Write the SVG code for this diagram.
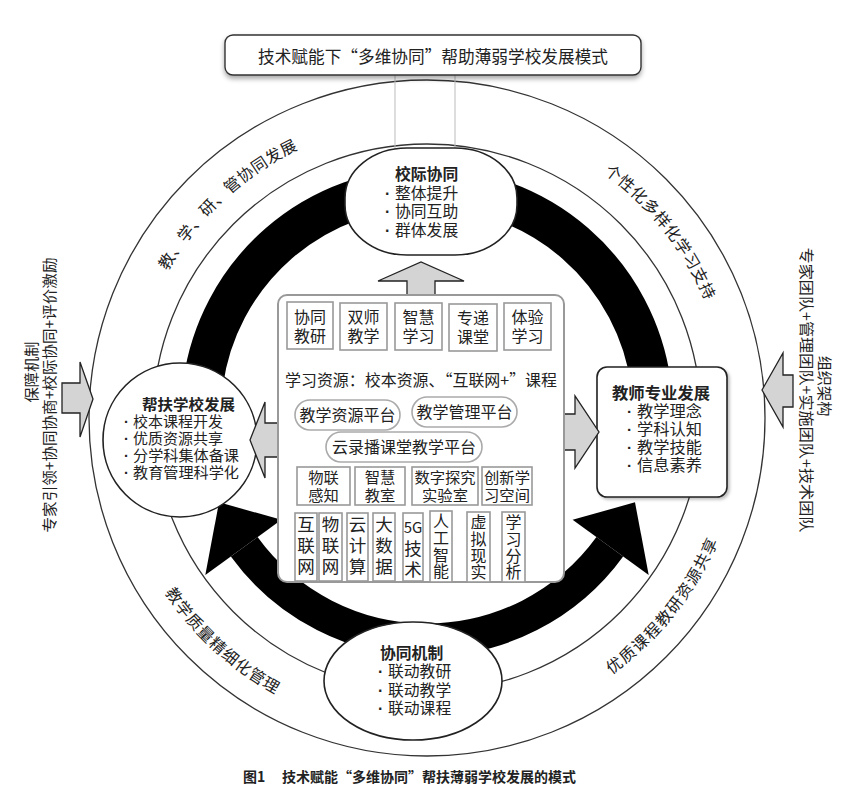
<svg xmlns="http://www.w3.org/2000/svg" width="850" height="803" viewBox="0 0 850 803">
<defs>
<style>
.t{font-family:"Noto Sans CJK SC","Noto Sans",sans-serif;fill:#222}
.h{font-weight:700}
.b{font-family:"Liberation Sans",sans-serif;font-weight:700}
.v{writing-mode:vertical-rl}
.ring{fill:none;stroke:#333;stroke-width:1.3}
.band{fill:none;stroke:#000;stroke-width:40}
.band2{fill:none;stroke:#000;stroke-width:33}
.blk{fill:#d4d4d4;stroke:#222;stroke-width:1.3;stroke-linejoin:miter}
.node{fill:#fff;stroke:#222;stroke-width:1.6}
.box{fill:#fff;stroke:#999;stroke-width:1.6}
.pill{fill:#fff;stroke:#aaa;stroke-width:1.6}
.vl{stroke:#bbb;stroke-width:1}
</style>
<filter id="sh" x="-10%" y="-20%" width="120%" height="150%"><feDropShadow dx="0" dy="3" stdDeviation="2.5" flood-color="#000" flood-opacity="0.35"/></filter>
<filter id="sh2" x="-10%" y="-10%" width="125%" height="125%"><feDropShadow dx="2" dy="2" stdDeviation="1.5" flood-color="#000" flood-opacity="0.25"/></filter>
<path id="p1" d="M140.5,335.9 A298,298 0 0 1 365.0,126.5"/>
<path id="p2" d="M530.3,134.2 A302,302 0 0 1 726.7,381.2"/>
<path id="p3" d="M131.0,525.7 A315,315 0 0 0 345.5,722.3"/>
<path id="p4" d="M535.1,714.9 A316,316 0 0 0 740.6,456.5"/>
</defs>
<rect width="850" height="803" fill="#fff"/>

<g id="rings">
<circle class="ring" cx="427" cy="418" r="338"/>
<circle class="ring" cx="427" cy="418" r="274"/>
</g>

<g id="connectors">
<path class="band" d="M203.2,382.5 A226,226 0 0 1 650.8,382.5"/>
<path class="band2" d="M427,640 A226,226 0 0 1 244.2,546.8"/>
<polygon fill="#000" points="281.4,519.8 205.3,575.1 219.0,502.3"/>
<path class="band2" d="M427,640 A226,226 0 0 0 609.8,546.8"/>
<polygon fill="#000" points="572.6,519.8 648.7,575.1 635.0,502.3"/>
<line class="vl" x1="395" y1="75" x2="395" y2="152"/>
<line class="vl" x1="455" y1="75" x2="455" y2="152"/>
<polygon class="blk" points="407,297 407,281 378,281 421,262 464,281 435,281 435,297"/>
<polygon class="blk" points="62,383 80,383 80,362 93,399 80,437 80,413 62,413"/>
<polygon class="blk" points="793,375 783,375 783,353 762,390 783,427 783,407 793,407"/>
</g>

<g id="ring-labels" class="t" font-size="16">
<text><textPath href="#p1" startOffset="50%" text-anchor="middle" letter-spacing="0.5">教、学、研、管协同发展</textPath></text>
<text><textPath href="#p2" startOffset="50%" text-anchor="middle" letter-spacing="0.6">个性化多样化学习支持</textPath></text>
<text><textPath href="#p3" startOffset="50%" text-anchor="middle" letter-spacing="0.9">教学质量精细化管理</textPath></text>
<text><textPath href="#p4" startOffset="50%" text-anchor="middle" letter-spacing="1.4">优质课程教研资源共享</textPath></text>
</g>

<g id="title">
<rect x="225" y="35" width="416" height="40" rx="8" fill="#fff" stroke="#333" stroke-width="1.4" filter="url(#sh)"/>
<text class="t" x="433" y="63" font-size="17" text-anchor="middle" textLength="350" lengthAdjust="spacingAndGlyphs">技术赋能下“多维协同”帮助薄弱学校发展模式</text>
</g>

<g id="node-top">
<rect class="node" x="345" y="148" width="172" height="107" rx="62" ry="50"/>
<text class="t" font-size="15.8"><tspan class="h" x="395" y="180">校际协同</tspan><tspan class="b" x="385" y="198.5">·</tspan><tspan x="395" y="198.5">整体提升</tspan><tspan class="b" x="385" y="217">·</tspan><tspan x="395" y="217">协同互助</tspan><tspan class="b" x="385" y="235.5">·</tspan><tspan x="395" y="235.5">群体发展</tspan></text>
</g>

<g id="node-left">
<circle class="node" cx="180" cy="440" r="77"/>
<text class="t" font-size="14.6"><tspan class="h" x="142" y="410" textLength="93" lengthAdjust="spacingAndGlyphs">帮扶学校发展</tspan><tspan class="b" x="124" y="427">·</tspan><tspan x="133" y="427" textLength="90" lengthAdjust="spacingAndGlyphs">校本课程开发</tspan><tspan class="b" x="124" y="444">·</tspan><tspan x="133" y="444" textLength="90" lengthAdjust="spacingAndGlyphs">优质资源共享</tspan><tspan class="b" x="124" y="461">·</tspan><tspan x="133" y="461" textLength="106" lengthAdjust="spacingAndGlyphs">分学科集体备课</tspan><tspan class="b" x="124" y="478">·</tspan><tspan x="133" y="478" textLength="106" lengthAdjust="spacingAndGlyphs">教育管理科学化</tspan></text>
</g>

<g id="node-right">
<rect class="node" x="597" y="367" width="130" height="130" rx="10" filter="url(#sh2)"/>
<text class="t" font-size="15.5"><tspan class="h" x="612" y="399" textLength="98" lengthAdjust="spacingAndGlyphs">教师专业发展</tspan><tspan class="b" x="627" y="417">·</tspan><tspan x="637" y="417" textLength="65" lengthAdjust="spacingAndGlyphs">教学理念</tspan><tspan class="b" x="627" y="435">·</tspan><tspan x="637" y="435" textLength="65" lengthAdjust="spacingAndGlyphs">学科认知</tspan><tspan class="b" x="627" y="453">·</tspan><tspan x="637" y="453" textLength="65" lengthAdjust="spacingAndGlyphs">教学技能</tspan><tspan class="b" x="627" y="471">·</tspan><tspan x="637" y="471" textLength="65" lengthAdjust="spacingAndGlyphs">信息素养</tspan></text>
</g>

<g id="node-bottom">
<ellipse class="node" cx="413" cy="681" rx="89" ry="59"/>
<text class="t" font-size="15.8"><tspan class="h" x="380" y="658.5">协同机制</tspan><tspan class="b" x="378" y="677">·</tspan><tspan x="388" y="677">联动教研</tspan><tspan class="b" x="378" y="695.5">·</tspan><tspan x="388" y="695.5">联动教学</tspan><tspan class="b" x="378" y="714">·</tspan><tspan x="388" y="714">联动课程</tspan></text>
</g>

<g id="arrows-inner">
<polygon class="blk" points="280,423 265,423 265,402 250,440 265,478 265,457 280,457"/>
<polygon class="blk" points="562,414 575,414 575,396 599,432 575,468 575,450 562,450"/>
</g>

<g id="node-center">
<rect x="278" y="295" width="286" height="287" rx="9" fill="#fff" stroke="#999" stroke-width="2"/>
<rect class="box" x="287" y="302" width="46" height="47"/>
<rect class="box" x="340" y="303" width="47" height="47"/>
<rect class="box" x="395" y="303" width="47" height="47"/>
<rect class="box" x="449" y="304" width="48" height="47"/>
<rect class="box" x="504" y="303" width="47" height="47"/>
<g class="t" font-size="16" text-anchor="middle" fill="#333">
<text class="t"><tspan x="310" y="323">协同</tspan><tspan x="310" y="342">教研</tspan></text>
<text class="t"><tspan x="363.5" y="323">双师</tspan><tspan x="363.5" y="342">教学</tspan></text>
<text class="t"><tspan x="418.5" y="323">智慧</tspan><tspan x="418.5" y="342">学习</tspan></text>
<text class="t"><tspan x="473" y="324">专递</tspan><tspan x="473" y="343">课堂</tspan></text>
<text class="t"><tspan x="527.5" y="323">体验</tspan><tspan x="527.5" y="342">学习</tspan></text>
</g>
<text class="t" x="285" y="386" font-size="16" textLength="272" lengthAdjust="spacingAndGlyphs">学习资源：校本资源、“互联网+”课程</text>
<rect class="pill" x="295" y="400" width="105" height="30" rx="15"/>
<rect class="pill" x="412" y="397" width="105" height="30" rx="15"/>
<rect class="pill" x="326" y="432" width="156" height="30" rx="15"/>
<rect class="box" x="297" y="467" width="53" height="38"/>
<rect class="box" x="355" y="467" width="50" height="38"/>
<rect class="box" x="412" y="467" width="66" height="38"/>
<rect class="box" x="482" y="467" width="50" height="38"/>
<g class="t" font-size="16" text-anchor="middle">
<text class="t" x="347.5" y="421">教学资源平台</text>
<text class="t" x="464.5" y="418">教学管理平台</text>
<text class="t" x="404" y="453">云录播课堂教学平台</text>
</g>
<g class="t" font-size="15.3" text-anchor="middle">
<text class="t"><tspan x="323.5" y="482.5">物联</tspan><tspan x="323.5" y="500.5">感知</tspan></text>
<text class="t"><tspan x="380" y="482.5">智慧</tspan><tspan x="380" y="500.5">教室</tspan></text>
<text class="t"><tspan x="445" y="482.5">数字探究</tspan><tspan x="445" y="500.5">实验室</tspan></text>
<text class="t"><tspan x="507" y="482.5">创新学</tspan><tspan x="507" y="500.5">习空间</tspan></text>
</g>
<rect class="box" x="295" y="513" width="22" height="68"/>
<rect class="box" x="319" y="513" width="23" height="68"/>
<rect class="box" x="347" y="513" width="21" height="68"/>
<rect class="box" x="373" y="513" width="22" height="68"/>
<rect class="box" x="403" y="513" width="20" height="68"/>
<rect class="box" x="430" y="511" width="22" height="71"/>
<rect class="box" x="467" y="512" width="23" height="70"/>
<rect class="box" x="502" y="512" width="23" height="70"/>
<g class="t" font-size="17.5" text-anchor="middle">
<text class="t"><tspan x="306" y="531">互</tspan><tspan x="306" y="552">联</tspan><tspan x="306" y="573">网</tspan></text>
<text class="t"><tspan x="330.5" y="531">物</tspan><tspan x="330.5" y="552">联</tspan><tspan x="330.5" y="573">网</tspan></text>
<text class="t"><tspan x="357.5" y="531">云</tspan><tspan x="357.5" y="552">计</tspan><tspan x="357.5" y="573">算</tspan></text>
<text class="t"><tspan x="384" y="531">大</tspan><tspan x="384" y="552">数</tspan><tspan x="384" y="573">据</tspan></text>
<text class="t"><tspan x="413" y="533" font-size="15">5G</tspan><tspan x="413" y="554.5">技</tspan><tspan x="413" y="576">术</tspan></text>
</g>
<g class="t" font-size="16">
<text class="t v" x="441" y="513" letter-spacing="0.8">人工智能</text>
<text class="t v" x="478.5" y="514" letter-spacing="0.8">虚拟现实</text>
<text class="t v" x="513.5" y="514" letter-spacing="0.8">学习分析</text>
</g>
</g>

<g id="side-left" class="t" font-size="15.2" text-anchor="middle">
<text class="t" transform="translate(37,372) rotate(-90)">保障机制</text>
<text class="t" transform="translate(55,395) rotate(-90)" textLength="275" lengthAdjust="spacingAndGlyphs">专家引领+协同协商+校际协同+评价激励</text>
</g>
<g id="side-right" class="t" font-size="15.2" text-anchor="middle">
<text class="t" transform="translate(819,386) rotate(90)">组织架构</text>
<text class="t" transform="translate(801,390) rotate(90)" textLength="285" lengthAdjust="spacingAndGlyphs">专家团队+管理团队+实施团队+技术团队</text>
</g>

<g id="caption">
<text class="t h" font-size="14"><tspan x="243" y="782">图1</tspan><tspan x="282" y="782">技术赋能“多维协同”帮扶薄弱学校发展的模式</tspan></text>
</g>
</svg>
